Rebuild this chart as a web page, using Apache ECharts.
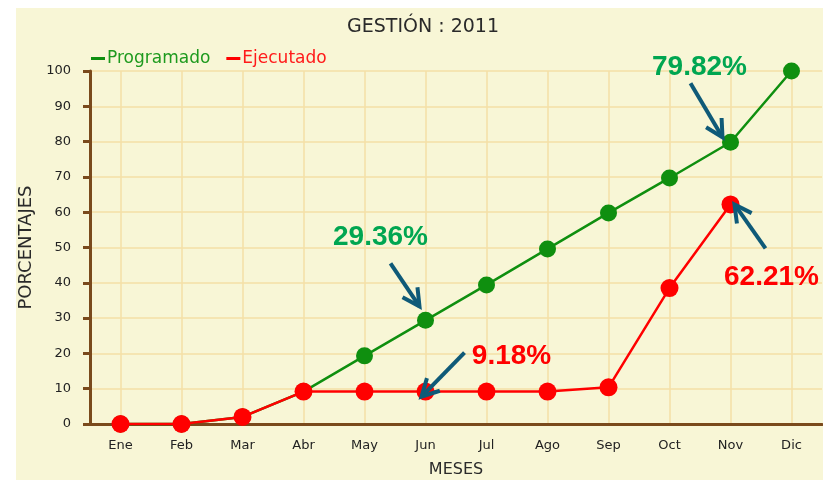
<!DOCTYPE html>
<html>
<head>
<meta charset="utf-8">
<script src="https://cdn.jsdelivr.net/npm/echarts@6/dist/echarts.min.js"></script>
<style>
  html, body { margin: 0; padding: 0; background: #fff; }
  #main { width: 823px; height: 480px; }
</style>
</head>
<body>
<div id="main"></div>
<script>
var meses = ['Ene', 'Feb', 'Mar', 'Abr', 'May', 'Jun', 'Jul', 'Ago', 'Sep', 'Oct', 'Nov', 'Dic']
var programado = [0, 0, 2, 9.18, 19.3, 29.36, 39.4, 49.6, 59.8, 69.7, 79.82, 100]
var ejecutado = [0, 0, 2, 9.18, 9.18, 9.18, 9.18, 9.18, 10.4, 38.5, 62.21, null]

// notas: [serie, mes, texto, color, desplazamiento texto, cola flecha, punta flecha]
var notas = [
  { serie: 0, mes: 'Nov', color: '#00a651', text: [-31, -75], tail: [-40, -59], tip: [-8, -5] },
  { serie: 0, mes: 'Jun', color: '#00a651', text: [-45, -83], tail: [-35, -57], tip: [-6, -14] },
  { serie: 1, mes: 'Jun', color: '#ff0000', text: [86, -35], tail: [39, -39], tip: [-4, 5] },
  { serie: 1, mes: 'Nov', color: '#ff0000', text: [41, 73], tail: [35, 44], tip: [4, 0] }
]

var chart = echarts.init(document.getElementById('main'))
var font = 'DejaVu Sans'
var brown = '#7a4a1c'
var gridColor = '#f4dfa6'

var option = {
  animation: false,
  backgroundColor: '#fff',
  title: {
    text: 'GESTIÓN : 2011',
    left: 342,
    top: 13,
    textStyle: { fontFamily: font, fontSize: 19, fontWeight: 'normal', color: '#2a2a2a' }
  },
  legend: {
    left: 86,
    top: 45,
    itemWidth: 14,
    itemHeight: 3,
    itemGap: 16,
    icon: 'rect',
    textStyle: { fontFamily: font, fontSize: 17, padding: [0, 0, 0, -3] },
    data: [
      { name: 'Programado', textStyle: { color: '#1e9a1e' } },
      { name: 'Ejecutado', textStyle: { color: '#ff1a1a' } }
    ]
  },
  grid: { left: 90, right: 1, top: 71, bottom: 56, outerBoundsMode: 'none' },
  xAxis: {
    type: 'category',
    data: meses,
    name: 'MESES',
    nameLocation: 'middle',
    nameGap: 38,
    nameTextStyle: { fontFamily: font, fontSize: 16, color: '#2a2a2a' },
    axisLine: { lineStyle: { color: brown, width: 3 } },
    axisTick: { alignWithLabel: true, length: 7, lineStyle: { color: brown, width: 3 } },
    axisLabel: { margin: 15, fontFamily: font, fontSize: 13, color: '#222' },
    splitLine: { show: true, alignWithLabel: true, interval: 0, lineStyle: { color: gridColor, width: 1.5 } }
  },
  yAxis: {
    type: 'value',
    min: 0,
    max: 100,
    interval: 10,
    name: 'PORCENTAJES',
    nameLocation: 'middle',
    nameGap: 49,
    nameTextStyle: { fontFamily: font, fontSize: 18, color: '#2a2a2a' },
    axisLine: { show: true, lineStyle: { color: brown, width: 3 } },
    axisTick: { show: true, length: 7, lineStyle: { color: brown, width: 3 } },
    axisLabel: { margin: 19, fontFamily: font, fontSize: 13, color: '#222' },
    splitLine: { lineStyle: { color: gridColor, width: 1.5 } }
  },
  graphic: [
    { type: 'rect', left: 16, top: 8, z: -10, silent: true,
      shape: { width: 807, height: 472 }, style: { fill: '#f8f6d6' } }
  ],
  series: [
    {
      name: 'Programado',
      type: 'line',
      data: programado,
      color: '#0f8f0f',
      symbol: 'circle',
      symbolSize: 17,
      lineStyle: { width: 2.5 },
      z: 2
    },
    {
      name: 'Ejecutado',
      type: 'line',
      data: ejecutado,
      color: '#ff0000',
      symbol: 'circle',
      symbolSize: 18,
      lineStyle: { width: 2.5 },
      z: 3
    }
  ]
}
chart.setOption(option)

// flechas y etiquetas de los valores
var series = [programado, ejecutado]
var extra = []
notas.forEach(function (n) {
  var val = series[n.serie][meses.indexOf(n.mes)]
  var p = chart.convertToPixel({ gridIndex: 0 }, [n.mes, val])
  var t0 = [p[0] + n.tail[0], p[1] + n.tail[1]]
  var t1 = [p[0] + n.tip[0], p[1] + n.tip[1]]
  var dx = t1[0] - t0[0], dy = t1[1] - t0[1]
  var len = Math.sqrt(dx * dx + dy * dy)
  var ux = dx / len, uy = dy / len
  var L = 17, W = 9
  var a = [t1[0] - ux * L + uy * W, t1[1] - uy * L - ux * W]
  var b = [t1[0] - ux * L - uy * W, t1[1] - uy * L + ux * W]
  var arrowStyle = { stroke: '#0f5a78', lineWidth: 4, fill: null }
  extra.push({ type: 'line', z: 20, shape: { x1: t0[0], y1: t0[1], x2: t1[0], y2: t1[1] }, style: arrowStyle })
  extra.push({ type: 'polyline', z: 20, shape: { points: [a, t1, b] }, style: arrowStyle })
  extra.push({
    type: 'text', z: 20,
    x: p[0] + n.text[0], y: p[1] + n.text[1],
    style: {
      text: val.toFixed(2) + '%',
      fill: n.color,
      font: 'bold 28px "Liberation Sans", Arial, sans-serif',
      align: 'center',
      verticalAlign: 'middle'
    }
  })
})
chart.setOption({ graphic: option.graphic.concat(extra) })
</script>
</body>
</html>
